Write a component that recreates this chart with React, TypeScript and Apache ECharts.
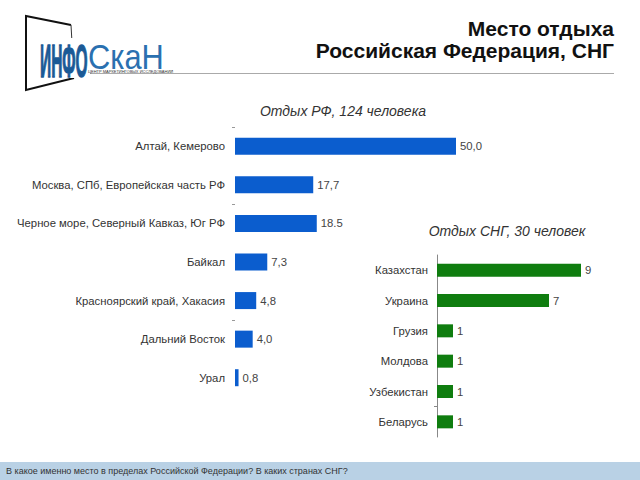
import React, { useEffect, useRef } from "react";
import * as echarts from "echarts";

const rfCategories = [
  "Алтай, Кемерово",
  "Москва, СПб, Европейская часть РФ",
  "Черное море, Северный Кавказ, Юг РФ",
  "Байкал",
  "Красноярский край, Хакасия",
  "Дальний Восток",
  "Урал",
];
const rfValues = [50.0, 17.7, 18.5, 7.3, 4.8, 4.0, 0.8];
const rfLabels = ["50,0", "17,7", "18.5", "7,3", "4,8", "4,0", "0,8"];
const rfTickBoundaries = [0, 2, 5];

const cisCategories = ["Казахстан", "Украина", "Грузия", "Молдова", "Узбекистан", "Беларусь"];
const cisValues = [9, 7, 1, 1, 1, 1];
const cisTickBoundaries = [5];

const mainTitle1 = "Место отдыха";
const mainTitle2 = "Российская Федерация, СНГ";
const rfTitle = "Отдых РФ, 124 человека";
const cisTitle = "Отдых СНГ, 30 человек";
const footerText = "В какое именно место в пределах Российской Федерации? В каких странах СНГ?";

const FONT = "Liberation Sans, Arial, sans-serif";

export default function App() {
  const ref = useRef<HTMLDivElement>(null);
  useEffect(() => {
    if (!ref.current) return;
    const chart = echarts.init(ref.current, null, { renderer: "svg" });
    chart.setOption({
      animation: false,
      backgroundColor: "#ffffff",
      textStyle: { fontFamily: FONT },
      title: [
        {
          text: rfTitle,
          left: 338,
          top: 99,
          textAlign: "center",
          textStyle: { fontSize: 14, fontStyle: "italic", fontWeight: "normal", color: "#333", fontFamily: FONT },
        },
        {
          text: cisTitle,
          left: 502,
          top: 219,
          textAlign: "center",
          textStyle: { fontSize: 14, fontStyle: "italic", fontWeight: "normal", color: "#333", fontFamily: FONT },
        },
      ],
      grid: [
        { left: 235, top: 127, width: 221, height: 270 },
        { left: 437, top: 255, width: 144, height: 182 },
      ],
      xAxis: [
        { type: "value", gridIndex: 0, min: 0, max: 50, show: false },
        { type: "value", gridIndex: 1, min: 0, max: 9, show: false },
      ],
      yAxis: [
        {
          type: "category",
          gridIndex: 0,
          position: "left",
          inverse: true,
          data: rfCategories,
          axisLine: { show: false },
          axisTick: { show: false },
          axisLabel: { color: "#333", fontSize: 11.3, margin: 10, fontFamily: FONT },
        },
        {
          type: "category",
          gridIndex: 1,
          position: "left",
          inverse: true,
          data: cisCategories,
          axisLine: { show: true, lineStyle: { color: "#888" } },
          axisTick: { show: false },
          axisLabel: { color: "#333", fontSize: 11.3, margin: 9, fontFamily: FONT },
        },
        {
          type: "value",
          gridIndex: 0,
          position: "left",
          inverse: true,
          min: 0,
          max: rfCategories.length,
          axisLine: { show: false },
          splitLine: { show: false },
          axisLabel: { show: false },
          axisTick: {
            show: true,
            length: 3,
            lineStyle: { color: "#999" },
            customValues: rfTickBoundaries,
          },
        },
        {
          type: "value",
          gridIndex: 1,
          position: "left",
          inverse: true,
          min: 0,
          max: cisCategories.length,
          axisLine: { show: false },
          splitLine: { show: false },
          axisLabel: { show: false },
          axisTick: {
            show: true,
            length: 3,
            lineStyle: { color: "#888" },
            customValues: cisTickBoundaries,
          },
        },
      ],
      series: [
        {
          type: "bar",
          xAxisIndex: 0,
          yAxisIndex: 0,
          data: rfValues,
          barWidth: 17,
          itemStyle: { color: "#0b5dce" },
          label: {
            show: true,
            position: "right",
            distance: 4,
            color: "#444",
            fontSize: 11.3,
            fontFamily: FONT,
            formatter: (p: any) => rfLabels[p.dataIndex],
          },
        },
        {
          type: "bar",
          xAxisIndex: 1,
          yAxisIndex: 1,
          data: cisValues,
          barWidth: 13,
          itemStyle: { color: "#0f7d0f" },
          label: {
            show: true,
            position: "right",
            distance: 4,
            color: "#444",
            fontSize: 11.3,
            fontFamily: FONT,
          },
        },
      ],
      graphic: [
        // header titles
        {
          type: "text",
          x: 614,
          y: 28,
          style: {
            text: mainTitle1,
            textAlign: "right",
            textVerticalAlign: "middle",
            font: `bold 21px ${FONT}`,
            fill: "#111",
          },
        },
        {
          type: "text",
          x: 614,
          y: 50,
          style: {
            text: mainTitle2,
            textAlign: "right",
            textVerticalAlign: "middle",
            font: `bold 21px ${FONT}`,
            fill: "#111",
          },
        },
        {
          type: "line",
          shape: { x1: 88, y1: 73.5, x2: 614, y2: 73.5 },
          style: { stroke: "#aaa", lineWidth: 1 },
        },
        // logo frame
        {
          type: "polyline",
          shape: { points: [[71, 25], [26, 16], [26, 90], [74, 78]] },
          style: { stroke: "#111", lineWidth: 2, fill: "none" },
        },
        {
          type: "line",
          shape: { x1: 71, y1: 25, x2: 74, y2: 78 },
          style: { stroke: "#333", lineWidth: 1 },
        },
        {
          type: "rect",
          shape: { x: 36, y: 38, width: 54, height: 40 },
          style: { fill: "#ffffff" },
        },
        {
          type: "text",
          x: 40,
          y: 84,
          scaleX: 0.33,
          scaleY: 1,
          style: {
            text: "ИНФО",
            textVerticalAlign: "bottom",
            font: `bold 47px ${FONT}`,
            fill: "#1b5a96",
            stroke: "#1b5a96",
            lineWidth: 1.5,
          },
        },
        {
          type: "text",
          x: 88,
          y: 74,
          scaleX: 0.88,
          scaleY: 1,
          style: {
            text: "СкаН",
            textVerticalAlign: "bottom",
            font: `normal 35px ${FONT}`,
            fill: "#2a70b0",
          },
        },
        {
          type: "text",
          x: 88,
          y: 71,
          style: {
            text: "ЦЕНТР МАРКЕТИНГОВЫХ ИССЛЕДОВАНИЙ",
            textVerticalAlign: "middle",
            font: `4px ${FONT}`,
            fill: "#333",
          },
        },
        // footer
        {
          type: "rect",
          shape: { x: 0, y: 462, width: 640, height: 18 },
          style: { fill: "#b9d1e5" },
        },
        {
          type: "text",
          x: 6,
          y: 471,
          style: {
            text: footerText,
            textVerticalAlign: "middle",
            font: `9px ${FONT}`,
            fill: "#333",
          },
        },
      ],
    });
    return () => chart.dispose();
  }, []);
  return (
    <div
      ref={ref}
      style={{ position: "fixed", left: 0, top: 0, width: 640, height: 480 }}
    />
  );
}
